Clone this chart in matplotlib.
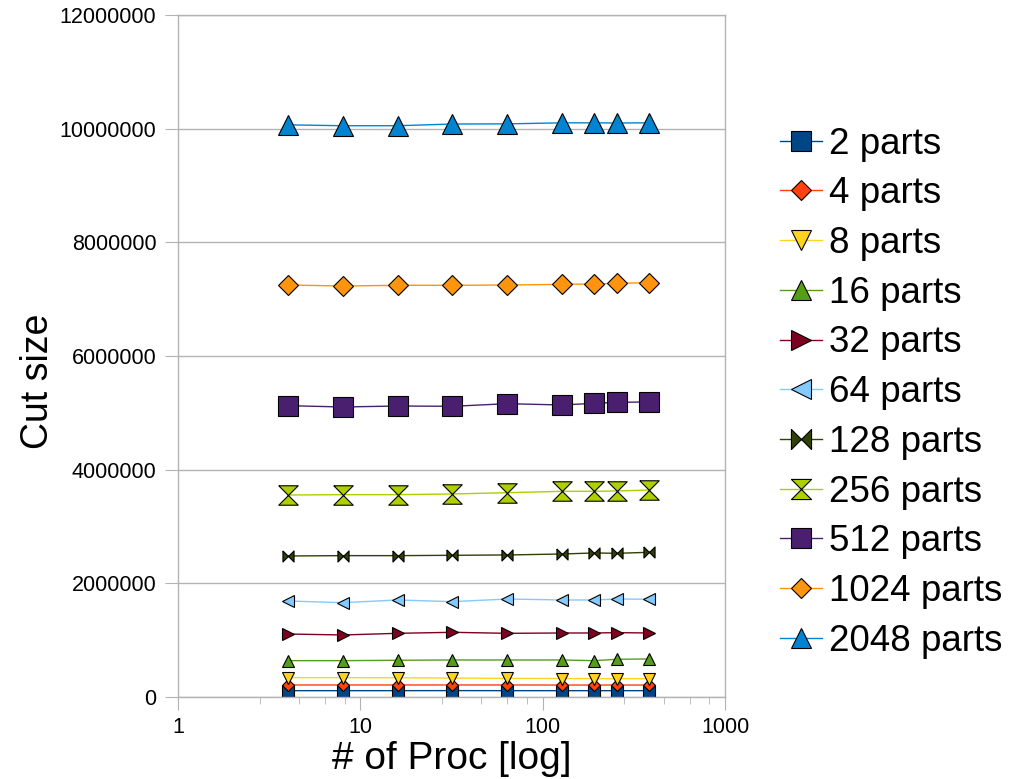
import matplotlib
matplotlib.use('Agg')
from matplotlib import pyplot as plt
import matplotlib.ticker as ticker
import numpy as np

plt.rcParams['font.family'] = ['Liberation Sans', 'DejaVu Sans']

procs = [4, 8, 16, 32, 64, 128, 192, 256, 384]

labels = ['2 parts', '4 parts', '8 parts', '16 parts', '32 parts', '64 parts',
          '128 parts', '256 parts', '512 parts', '1024 parts', '2048 parts']

cut_2 = [111000, 111000, 111000, 112000, 111000, 111000, 111000, 111000, 111000]
cut_4 = [211000, 211000, 211000, 211000, 211000, 210000, 210000, 210000, 210000]
cut_8 = [340000, 340000, 338000, 333000, 327000, 325000, 322000, 322000, 322000]
cut_16 = [639000, 639000, 646000, 651000, 651000, 651000, 639000, 663000, 669000]
cut_32 = [1108000, 1091000, 1120000, 1138000, 1120000, 1126000, 1126000, 1132000, 1126000]
cut_64 = [1689000, 1659000, 1707000, 1677000, 1724000, 1707000, 1707000, 1724000, 1719000]
cut_128 = [2481000, 2487000, 2487000, 2493000, 2499000, 2516000, 2534000, 2528000, 2546000]
cut_256 = [3554000, 3560000, 3560000, 3572000, 3595000, 3619000, 3619000, 3625000, 3642000]
cut_512 = [5126000, 5103000, 5120000, 5115000, 5161000, 5138000, 5168000, 5185000, 5191000]
cut_1024 = [7249000, 7232000, 7244000, 7244000, 7249000, 7261000, 7267000, 7279000, 7290000]
cut_2048 = [10068000, 10052000, 10052000, 10082000, 10085000, 10103000, 10103000, 10100000, 10103000]

series = [cut_2, cut_4, cut_8, cut_16, cut_32, cut_64, cut_128, cut_256, cut_512, cut_1024, cut_2048]

colors = ['#004586', '#ff420e', '#ffd320', '#579d1c', '#7e0021', '#83caff',
          '#314004', '#aecf00', '#4b1f6f', '#ff950e', '#0084d1']

hourglass_v = [(-1, 1), (1, 1), (-1, -1), (1, -1), (-1, 1)]
hourglass_h = [(-1, 1), (-1, -1), (1, 1), (1, -1), (-1, 1)]

markers = ['s', 'D', 'v', '^', '>', '<', hourglass_h, hourglass_v, 's', 'D', '^']
sizes = [8.4, 6.1, 8.4, 8.4, 8.4, 8.4, 8.0, 14.0, 14.0, 9.8, 14.0]

fig = plt.figure(figsize=(10.23, 7.79), dpi=100)
ax = fig.add_axes((0.174, 0.1053, 0.5347, 0.8754))

for i in range(len(series)):
    ax.plot(procs, series[i], color=colors[i], lw=1.0, marker=markers[i],
            markersize=sizes[i], markerfacecolor=colors[i],
            markeredgecolor='black', markeredgewidth=0.8, label=labels[i])

ax.set_xscale('log')
ax.set_xlim(1, 1000)
ax.set_ylim(0, 12000000)
ax.set_yticks(np.arange(0, 12000001, 2000000))
ax.yaxis.set_major_formatter(ticker.FuncFormatter(lambda v, p: '%d' % v))
ax.xaxis.set_major_locator(ticker.FixedLocator([1, 10, 100, 1000]))
ax.xaxis.set_major_formatter(ticker.FuncFormatter(lambda v, p: '%d' % v))
minor = []
for dec in [1, 10, 100]:
    for m in [2.8, 4.6, 6.4, 8.2]:
        minor.append(dec * m)
ax.xaxis.set_minor_locator(ticker.FixedLocator(minor))
ax.xaxis.set_minor_formatter(ticker.NullFormatter())

ax.grid(axis='y', color='#b3b3b3', lw=1.0)
ax.set_axisbelow(True)
for s in ax.spines.values():
    s.set_color('#b3b3b3')
    s.set_linewidth(1.0)

ax.tick_params(axis='y', which='major', direction='out', color='#b3b3b3',
               labelsize=15.5, length=9.5, pad=6)
ax.tick_params(axis='x', which='major', direction='out', color='#b3b3b3',
               labelsize=15.5, length=9.5, pad=5)
ax.tick_params(axis='x', which='minor', direction='out', color='#b3b3b3', length=5)

ax.set_xlabel('# of Proc [log]', fontsize=28, labelpad=2)
ax.set_ylabel('Cut size', fontsize=27)
ax.yaxis.set_label_coords(-0.223, 0.463)

leg = fig.legend(loc='center left', bbox_to_anchor=(780 / 1023, 0.496),
                 frameon=False, fontsize=26.5, handlelength=1.13,
                 handletextpad=0.2, labelspacing=0.40, borderpad=0,
                 borderaxespad=0)
for line in leg.get_lines():
    if line.get_marker() == 'D':
        line.set_markersize(10.5)
    else:
        line.set_markersize(14.5)

fig.savefig('out.png', dpi=100)
